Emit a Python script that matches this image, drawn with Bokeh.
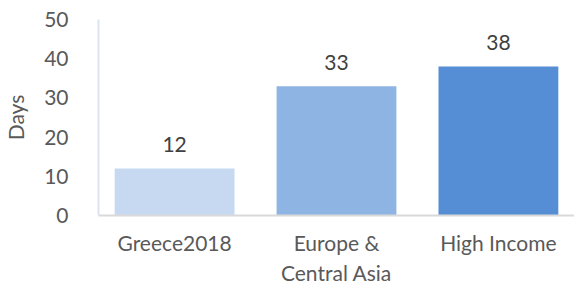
from bokeh.plotting import figure
from bokeh.models import ColumnDataSource, Range1d, FactorRange
from bokeh.embed import file_html
from bokeh.resources import INLINE
from bokeh.core.properties import value

categories = ["Greece2018", "Europe &\nCentral Asia", "High Income"]
days = [12, 33, 38]
labels = ["12", "33", "38"]
colors = ["#C6D9F1", "#8EB4E3", "#558ED5"]

FONT = "Lato"
TXT = "#595959"

src = ColumnDataSource(dict(cat=categories, days=days, lab=labels, col=colors))

xr = FactorRange(factors=categories, range_padding=-0.03, range_padding_units="absolute")
p = figure(x_range=xr, y_range=Range1d(0, 50),
           frame_width=476, frame_height=196,
           output_backend="svg", toolbar_location=None,
           min_border_left=92, min_border_right=0, min_border_top=19, min_border_bottom=0)

p.vbar(x="cat", top="days", width=0.74, source=src, fill_color="col", line_color=None)
p.text(x="cat", y="days", text="lab", source=src, y_offset=-24,
       text_align="center", text_baseline="middle",
       text_font=value(FONT), text_font_size="21px", text_color="#404040")

p.outline_line_color = None
p.xgrid.grid_line_color = None
p.ygrid.grid_line_color = None

p.yaxis.ticker = [0, 10, 20, 30, 40, 50]
p.yaxis.axis_label = "Days"
p.yaxis.axis_label_text_font = FONT
p.yaxis.axis_label_text_font_size = "21px"
p.yaxis.axis_label_text_font_style = "normal"
p.yaxis.axis_label_text_color = TXT
p.yaxis.axis_label_standoff = 13
p.yaxis.axis_line_color = "#DAE3F3"
p.yaxis.axis_line_width = 2
p.yaxis.major_tick_line_color = None
p.yaxis.minor_tick_line_color = None
p.yaxis.major_label_standoff = 24

p.xaxis.axis_line_color = "#D9D9D9"
p.xaxis.axis_line_width = 2
p.xaxis.major_tick_line_color = None
p.xaxis.major_label_standoff = 8

for ax in (p.xaxis, p.yaxis):
    ax.major_label_text_font = FONT
    ax.major_label_text_font_size = "21px"
    ax.major_label_text_color = TXT

open("out.html", "w").write(file_html(p, INLINE))
